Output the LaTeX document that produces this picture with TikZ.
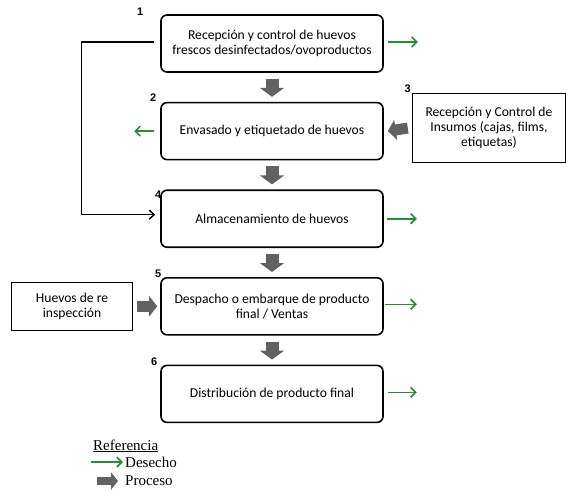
\documentclass[tikz,border=0pt]{standalone}
\usepackage{fontspec}
\setmainfont{Carlito}
\newfontfamily\legfont{Liberation Serif}
\newfontfamily\numfont{Liberation Sans}
\usetikzlibrary{arrows.meta,positioning}
\definecolor{wastegreen}{RGB}{38,142,52}
\definecolor{procgray}{RGB}{98,98,98}

\begin{document}
\begin{tikzpicture}[
  x=1pt, y=-1pt,
  every node/.style={font=\fontsize{13.6}{15}\selectfont},
  stage/.style={draw, line width=1.6pt, rounded corners=6pt, align=center, minimum width=222pt, minimum height=57pt, inner sep=2pt},
  side/.style={draw, line width=1.3pt, align=center, inner sep=2pt},
  num/.style={font=\numfont\bfseries\fontsize{11}{12}\selectfont, inner sep=0pt},
  legend/.style={font=\legfont\fontsize{15}{17}\selectfont, inner sep=0pt, anchor=base west},
  waste/.style={-{Straight Barb[length=5pt,width=10pt]}, wastegreen, line width=1.6pt},
  proc/.style={-{Triangle[length=9pt,width=24pt]}, procgray, line width=13pt},
  feed/.style={-{Straight Barb[length=5pt,width=9pt]}, line width=1.4pt}
]
\useasboundingbox (0,0) rectangle (567,490);
% main stages
\node[stage] (recep) at (272,43.5) {Recepción y control de huevos\\frescos desinfectados/ovoproductos};
\node[stage, below=29pt of recep] (envas) {Envasado y etiquetado de huevos};
\node[stage, below=29pt of envas] (almac) {Almacenamiento de huevos};
\node[stage, below=29pt of almac] (desp) {Despacho o embarque de producto\\final / Ventas};
\node[stage, below=29pt of desp] (dist) {Distribución de producto final};
% inputs
\node[side, minimum width=153pt, minimum height=69pt, right=28pt of envas, yshift=3pt] (insum) {Recepción y Control de\\Insumos (cajas, films,\\etiquetas)};
\node[side, minimum width=121pt, minimum height=48pt, left=27pt of desp] (reinsp) {Huevos de re\\inspección};
% numbers
\node[num] (n1) at ([xshift=-20pt,yshift=2pt]recep.north west) {1};
\node[num] (n2) at ([xshift=-7pt,yshift=4pt]envas.north west) {2};
\node[num] (n3) at ([xshift=-4pt,yshift=4pt]insum.north west) {3};
\node[num] (n4) at ([xshift=-2pt,yshift=-5pt]almac.north west) {4};
\node[num] (n5) at ([xshift=-2pt,yshift=3pt]desp.north west) {5};
\node[num] (n6) at ([xshift=-6pt,yshift=3pt]dist.north west) {6};
% process arrows
\draw[proc] ([yshift=-6pt]recep.south) -- ([yshift=5pt]envas.north);
\draw[proc] ([yshift=-6pt]envas.south) -- ([yshift=5pt]almac.north);
\draw[proc] ([yshift=-6pt]almac.south) -- ([yshift=5pt]desp.north);
\draw[proc] ([yshift=-6pt]desp.south) -- ([yshift=5pt]dist.north);
\draw[proc, line width=11pt, -{Triangle[length=8pt,width=20pt]}] ([xshift=-4pt]insum.west) -- ([xshift=4pt]envas.east);
\draw[proc, line width=11pt, -{Triangle[length=8pt,width=20pt]}] ([xshift=4pt]reinsp.east) -- ([xshift=-3pt]desp.west);
% waste arrows
\coordinate (w1) at ([xshift=34pt,yshift=1.5pt]recep.east);
\coordinate (w2) at ([xshift=-26pt]envas.west);
\coordinate (w4) at ([xshift=33pt]almac.east);
\coordinate (w5) at ([xshift=33pt,yshift=2pt]desp.east);
\coordinate (w6) at ([xshift=33pt,yshift=1.5pt]dist.east);
\draw[waste] ([xshift=4pt,yshift=1.5pt]recep.east) -- (w1);
\draw[waste] ([xshift=-6pt]envas.west) -- (w2);
\draw[waste] ([xshift=3pt]almac.east) -- (w4);
\draw[waste] ([xshift=1pt,yshift=2pt]desp.east) -- (w5);
\draw[waste] ([xshift=4pt,yshift=1.5pt]dist.east) -- (w6);
% bypass to storage
\draw[feed] ([xshift=-6pt,yshift=1.5pt]recep.west) -- ++(-73pt,0) |- ([xshift=-5pt,yshift=4pt]almac.west);
% legend
\node[legend] (legtitle) at (93,450) {\underline{Referencia}};
\node[legend] (legwaste) at (125,467) {Desecho};
\node[legend] (legproc) at (125,485) {Proceso};
\draw[waste] ([xshift=-34pt,yshift=5pt]legwaste.base west) -- ([xshift=-2pt,yshift=5pt]legwaste.base west);
\draw[proc, line width=8pt, -{Triangle[length=7pt,width=17pt]}] ([xshift=-28pt,yshift=4pt]legproc.base west) -- ([xshift=-7pt,yshift=4pt]legproc.base west);
\end{tikzpicture}
\end{document}
